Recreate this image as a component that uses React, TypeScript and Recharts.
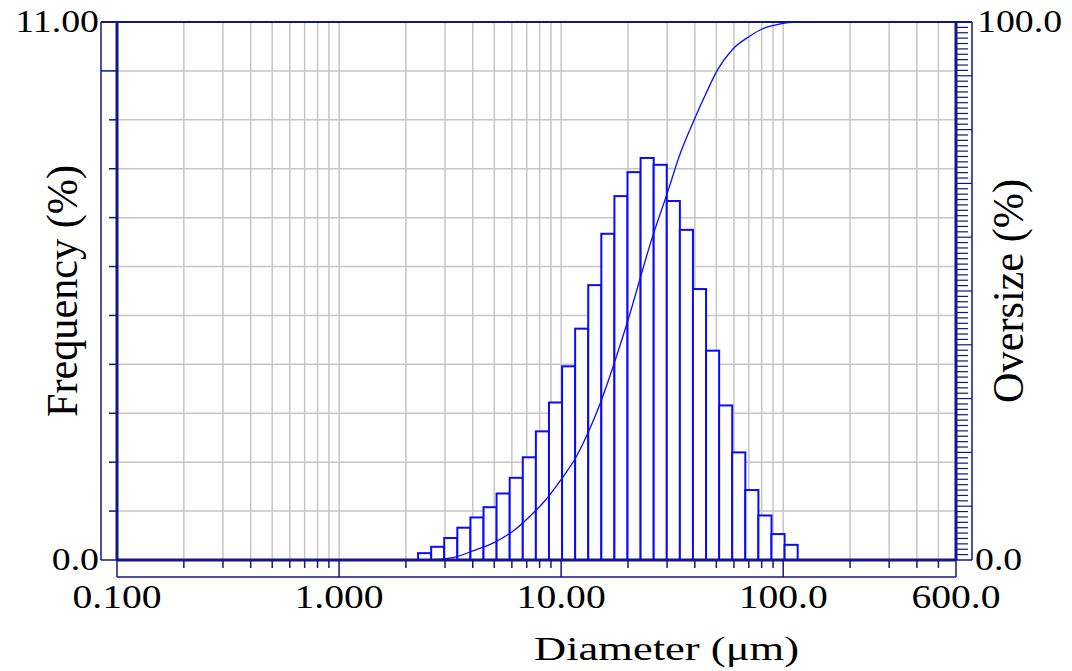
import {
  Bar,
  CartesianGrid,
  ComposedChart,
  Line,
  ReferenceLine,
  XAxis,
  YAxis,
} from "recharts";

// histogram bins (µm), log spaced
const binEdges = [
  2.269, 2.599, 2.976, 3.409, 3.905, 4.472, 5.122, 5.867, 6.72, 7.697, 8.816,
  10.097, 11.565, 13.246, 15.172, 17.377, 19.904, 22.797, 26.111, 29.907,
  34.255, 39.234, 44.938, 51.471, 58.953, 67.523, 77.339, 88.583, 101.46, 116.21,
];
const frequency = [
  0.14, 0.27, 0.45, 0.66, 0.87, 1.08, 1.36, 1.68, 2.1, 2.63, 3.22, 3.96, 4.73,
  5.62, 6.67, 7.44, 7.93, 8.22, 8.08, 7.34, 6.75, 5.54, 4.28, 3.16, 2.2, 1.43,
  0.91, 0.53, 0.31,
];

// cumulative curve
const curveDiameter = [
  2.6, 2.77, 3.36, 4.13, 4.91, 6.04, 7.18, 8.53, 10.1, 11.7, 13.6, 14.8, 19.6,
  25.8, 30.4, 34.0, 39.7, 44.9, 50.6, 59.1, 70.3, 83.6, 95.9, 106, 116,
];
const curveOversize = [
  0, 0.1, 0.6, 1.9, 3.1, 5.3, 8.0, 11.2, 15.2, 19.2, 24.8, 28.5, 43.4, 60.1,
  68.8, 75.0, 81.8, 86.7, 91.1, 94.9, 97.3, 99.0, 99.6, 99.9, 100,
];

const xTicks = [
  0.1, 0.2, 0.3, 0.4, 0.5, 0.6, 0.7, 0.8, 0.9, 1, 2, 3, 4, 5, 6, 7, 8, 9, 10,
  20, 30, 40, 50, 60, 70, 80, 90, 100, 200, 300, 400, 500, 600,
];
const xTickLabels: Record<string, string> = {
  "0.1": "0.100",
  "1": "1.000",
  "10": "10.00",
  "100": "100.0",
  "600": "600.0",
};
const xMajor = [1, 10, 100];

const leftTicks = [0, 1, 2, 3, 4, 5, 6, 7, 8, 9, 10, 11];
const leftTickLabels: Record<string, string> = { "0": "0.0", "11": "11.00" };
const rightTicks = Array.from({ length: 101 }, (_, i) => i);
const rightTickLabels: Record<string, string> = { "0": "0.0", "100": "100.0" };

const bars = frequency.map((f, i) => ({
  d: Math.sqrt(binEdges[i] * binEdges[i + 1]),
  freq: f,
}));
const curve = curveDiameter.map((d, i) => ({ d, pct: curveOversize[i] }));

const NAVY = "#14148c";
const BLUE = "#0a0aff";
const GRID = "#c6c6c6";
const SERIF = "'Liberation Serif', 'Times New Roman', serif";

const W = 1072;
const H = 671;
const LEFT_W = 117;
const RIGHT_W = 116;
const TOP = 22;
const X_H = 111;
const PLOT_W = W - LEFT_W - RIGHT_W;
const PLOT_H = H - TOP - X_H;
const barPx =
  (PLOT_W * Math.log10(binEdges[1] / binEdges[0])) / Math.log10(600 / 0.1);

function Txt({ x, y, size, sx = 1, sy = 1, rotate = 0, anchor = "start", children }: any) {
  return (
    <text
      transform={`translate(${x},${y}) rotate(${rotate}) scale(${sx},${sy})`}
      textAnchor={anchor}
      fontFamily={SERIF}
      fontSize={size}
      fill="#000"
    >
      {children}
    </text>
  );
}

function BinShape(props: any) {
  const { x, y, width, height } = props;
  const cx = x + width / 2;
  return (
    <rect
      x={cx - barPx / 2}
      y={y}
      width={barPx}
      height={height}
      fill="#fff"
      stroke={BLUE}
      strokeWidth={2}
    />
  );
}

function XTick(props: any) {
  const { x, y, payload } = props;
  const v = payload.value;
  const label = xTickLabels[String(v)];
  const edge = v === 0.1 || v === 600;
  const len = xMajor.includes(v) ? 17 : 8;
  return (
    <g>
      {!edge && <line x1={x} y1={y} x2={x} y2={y + len} stroke={NAVY} strokeWidth={1.5} />}
      {label && (
        <Txt x={x} y={y + 48} size={33} sx={1.2} anchor="middle">
          {label}
        </Txt>
      )}
    </g>
  );
}

function LeftTick(props: any) {
  const { x, y, payload } = props;
  const v = payload.value;
  const label = leftTickLabels[String(v)];
  const len = v === 10 ? 16 : 8;
  return (
    <g>
      {v !== 0 && v !== 11 && (
        <line x1={x - len} y1={y} x2={x} y2={y} stroke={NAVY} strokeWidth={1.5} />
      )}
      {label && (
        <Txt x={x - 18} y={y + 10} size={31} sx={1.22} anchor="end">
          {label}
        </Txt>
      )}
    </g>
  );
}

function RightTick(props: any) {
  const { x, y, payload } = props;
  const v = payload.value;
  const label = rightTickLabels[String(v)];
  const len = v % 10 === 0 ? 16 : 12;
  return (
    <g>
      {v !== 0 && v !== 100 && (
        <line x1={x} y1={y} x2={x + len} y2={y} stroke={NAVY} strokeWidth={1.2} />
      )}
      {label && (
        <Txt x={x + (v === 0 ? 19 : 21)} y={y + 10} size={31} sx={1.22}>
          {label}
        </Txt>
      )}
    </g>
  );
}

function LeftFrame(props: any) {
  const vb = props.viewBox ?? { x: 0, y: TOP, width: LEFT_W, height: PLOT_H };
  const right = vb.x + vb.width;
  const outer = right - 16;
  const bottom = vb.y + vb.height;
  return (
    <g>
      <line x1={outer} y1={vb.y} x2={outer} y2={bottom} stroke={NAVY} strokeWidth={1.5} />
      <line x1={outer} y1={vb.y} x2={right} y2={vb.y} stroke={NAVY} strokeWidth={2} />
      <line x1={outer} y1={bottom} x2={right} y2={bottom} stroke={NAVY} strokeWidth={1.5} />
      <Txt x={right - 40} y={vb.y + vb.height / 2} size={33} sx={1.28} sy={1.34} rotate={-90} anchor="middle">
        Frequency (%)
      </Txt>
    </g>
  );
}

function RightFrame(props: any) {
  const vb = props.viewBox ?? { x: W - RIGHT_W, y: TOP, width: RIGHT_W, height: PLOT_H };
  const outer = vb.x + 16;
  const bottom = vb.y + vb.height;
  return (
    <g>
      <line x1={outer} y1={vb.y} x2={outer} y2={bottom} stroke={NAVY} strokeWidth={1.5} />
      <line x1={vb.x} y1={vb.y} x2={outer} y2={vb.y} stroke={NAVY} strokeWidth={2} />
      <line x1={vb.x} y1={bottom} x2={outer} y2={bottom} stroke={NAVY} strokeWidth={1.5} />
      <Txt x={vb.x + 67} y={vb.y + vb.height / 2} size={33} sx={1.28} sy={1.34} rotate={-90} anchor="middle">
        Oversize (%)
      </Txt>
    </g>
  );
}

function BottomFrame(props: any) {
  const vb = props.viewBox ?? { x: LEFT_W, y: TOP + PLOT_H, width: PLOT_W, height: X_H };
  const depth = vb.y + 17;
  const right = vb.x + vb.width;
  return (
    <g>
      <line x1={vb.x} y1={vb.y} x2={vb.x} y2={depth} stroke={NAVY} strokeWidth={1.5} />
      <line x1={right} y1={vb.y} x2={right} y2={depth} stroke={NAVY} strokeWidth={1.5} />
      <line x1={vb.x} y1={depth} x2={right} y2={depth} stroke={NAVY} strokeWidth={1.5} />
      <Txt x={vb.x + vb.width / 2 + 130} y={vb.y + 100} size={33} sx={1.35} anchor="middle">
        Diameter (μm)
      </Txt>
    </g>
  );
}

export default function App() {
  return (
    <div style={{ position: "absolute", left: 0, top: 0, width: W, height: H, background: "#fff" }}>
      <ComposedChart
        width={W}
        height={H}
        data={bars}
        margin={{ top: TOP, right: 0, bottom: 0, left: 0 }}
      >
        <CartesianGrid yAxisId="left" stroke={GRID} strokeWidth={1.5} />
        <XAxis
          dataKey="d"
          type="number"
          scale="log"
          domain={[0.1, 600]}
          allowDataOverflow
          ticks={xTicks}
          interval={0}
          height={X_H}
          tickSize={0}
          tickMargin={0}
          tickLine={false}
          axisLine={{ stroke: NAVY, strokeWidth: 3 }}
          tick={(p: any) => <XTick {...p} />}
          label={{ content: BottomFrame }}
        />
        <YAxis
          yAxisId="left"
          orientation="left"
          domain={[0, 11]}
          ticks={leftTicks}
          interval={0}
          width={LEFT_W}
          tickSize={0}
          tickMargin={0}
          tickLine={false}
          axisLine={{ stroke: NAVY, strokeWidth: 3 }}
          tick={(p: any) => <LeftTick {...p} />}
          label={{ content: LeftFrame }}
        />
        <YAxis
          yAxisId="right"
          orientation="right"
          domain={[0, 100]}
          ticks={rightTicks}
          interval={0}
          width={RIGHT_W}
          tickSize={0}
          tickMargin={0}
          tickLine={false}
          axisLine={{ stroke: NAVY, strokeWidth: 3 }}
          tick={(p: any) => <RightTick {...p} />}
          label={{ content: RightFrame }}
        />
        <Bar
          yAxisId="left"
          dataKey="freq"
          barSize={13}
          shape={(p: any) => <BinShape {...p} />}
          isAnimationActive={false}
        />
        <Line
          yAxisId="right"
          data={curve}
          dataKey="pct"
          type="monotone"
          stroke={BLUE}
          strokeWidth={1.3}
          dot={false}
          isAnimationActive={false}
        />
        <ReferenceLine yAxisId="left" y={11} stroke={NAVY} strokeWidth={2} />
      </ComposedChart>
    </div>
  );
}
